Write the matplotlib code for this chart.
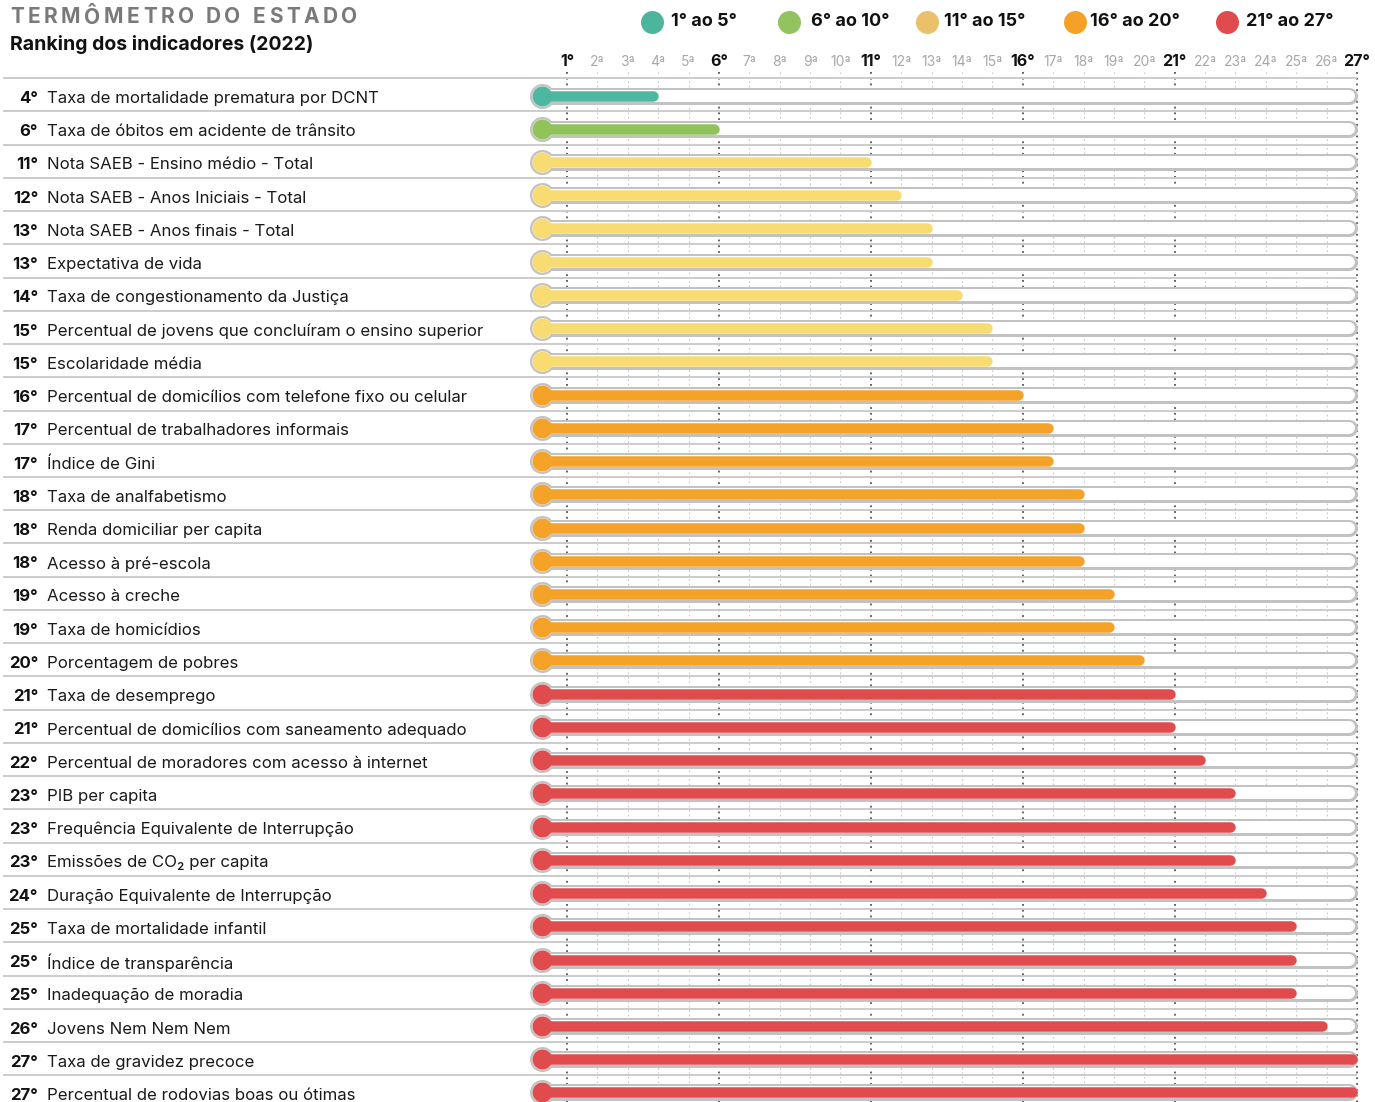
import matplotlib
matplotlib.use("Agg")
import matplotlib.pyplot as plt

# ---------------- data ----------------
labels = [
    "Taxa de mortalidade prematura por DCNT",
    "Taxa de óbitos em acidente de trânsito",
    "Nota SAEB - Ensino médio - Total",
    "Nota SAEB - Anos Iniciais - Total",
    "Nota SAEB - Anos finais - Total",
    "Expectativa de vida",
    "Taxa de congestionamento da Justiça",
    "Percentual de jovens que concluíram o ensino superior",
    "Escolaridade média",
    "Percentual de domicílios com telefone fixo ou celular",
    "Percentual de trabalhadores informais",
    "Índice de Gini",
    "Taxa de analfabetismo",
    "Renda domiciliar per capita",
    "Acesso à pré-escola",
    "Acesso à creche",
    "Taxa de homicídios",
    "Porcentagem de pobres",
    "Taxa de desemprego",
    "Percentual de domicílios com saneamento adequado",
    "Percentual de moradores com acesso à internet",
    "PIB per capita",
    "Frequência Equivalente de Interrupção",
    "Emissões de CO₂ per capita",
    "Duração Equivalente de Interrupção",
    "Taxa de mortalidade infantil",
    "Índice de transparência",
    "Inadequação de moradia",
    "Jovens Nem Nem Nem",
    "Taxa de gravidez precoce",
    "Percentual de rodovias boas ou ótimas",
]
ranks = [4, 6, 11, 12, 13, 13, 14, 15, 15, 16, 17, 17, 18, 18, 18, 19, 19, 20,
         21, 21, 22, 23, 23, 23, 24, 25, 25, 25, 26, 27, 27]

n_states = 27
major_ticks = [1, 6, 11, 16, 21, 27]
group_labels = ["1° ao 5°", "6° ao 10°", "11° ao 15°", "16° ao 20°", "21° ao 27°"]
group_upper = [5, 10, 15, 20, 27]
bar_colors = ["#4DB89F", "#90C45B", "#F8DC72", "#F5A228", "#E04C4E"]
legend_colors = ["#4DB59B", "#93C35E", "#EBC06B", "#F5A027", "#E04B4D"]

title = "TERMÔMETRO DO ESTADO"
subtitle = "Ranking dos indicadores (2022)"

# ---------------- layout ----------------
W, H = 1375, 1102
FONT = ["Inter", "DejaVu Sans"]
plt.rcParams["font.family"] = FONT

P = (1357 - 567) / 26.0       # pixels per rank
R = 33.233                    # pixels per row
ROW0 = 95.5                   # pixel y of first row
PT = 0.72                     # points per pixel at dpi 100


def px2x(px):
    return 1 + (px - 567) / P


def py2y(py):
    return (py - ROW0) / R


fig = plt.figure(figsize=(W / 100, H / 100), dpi=100)
ax = fig.add_axes([0, 0, 1, 1])
ax.set_xlim(px2x(0), px2x(W))
ax.set_ylim(py2y(H), py2y(0))
ax.axis("off")

n = len(labels)


def color_for(r, cols):
    for up, c in zip(group_upper, cols):
        if r <= up:
            return c
    return cols[-1]


# vertical dotted grid
for k in range(1, n_states + 1):
    major = k in major_ticks
    ax.plot([k, k], [py2y(72), py2y(H)],
            color="#555555" if major else "#C9C9C9",
            lw=1.3 if major else 0.8,
            ls=(0, (1, 2.2)) if major else (0, (1.5, 2.5)),
            zorder=1)
    ax.text(k, py2y(62), f"{k}°" if major else f"{k}ª",
            ha="center", va="center",
            fontsize=11.5 if major else 10,
            fontweight="bold" if major else "normal",
            color="#111111" if major else "#A8A8A8")

# row separators
for i in range(n + 1):
    y = i - 0.5 - 0.02
    ax.plot([px2x(3), px2x(1357)], [y, y], color="#CCCCCC", lw=1.4, zorder=1.5,
            solid_capstyle="butt")

bulb_x = px2x(541.5)
tube_end = px2x(1357 - 8.5)
fill_cap = 5.0 / P
for i, (lab, r) in enumerate(zip(labels, ranks)):
    c = color_for(r, bar_colors)
    # tube outline
    ax.plot([bulb_x, tube_end], [i, i], color="#C2C2C2", lw=17 * PT,
            solid_capstyle="round", zorder=2)
    ax.plot([bulb_x], [i], marker="o", ms=25 * PT, color="#C2C2C2", mew=0, zorder=2)
    ax.plot([bulb_x, tube_end], [i, i], color="white", lw=12 * PT,
            solid_capstyle="round", zorder=3)
    ax.plot([bulb_x], [i], marker="o", ms=20.5 * PT, color="white", mew=0, zorder=3)
    # fill
    ax.plot([bulb_x, r - fill_cap], [i, i], color=c, lw=10.5 * PT,
            solid_capstyle="round", zorder=4)
    ax.plot([bulb_x], [i], marker="o", ms=20 * PT, color=c, mew=0, zorder=4)
    # texts
    ty = i + 3.0 / R
    ax.text(px2x(38), ty, f"{r}°", ha="right", va="center", fontsize=12,
            fontweight="bold", color="#111111")
    ax.text(px2x(47), ty, lab, ha="left", va="center", fontsize=12.1,
            color="#1A1A1A")

# title with letter spacing
renderer = fig.canvas.get_renderer()
tkw = dict(ha="left", va="center", fontsize=15, fontweight="bold",
           color="#7A7A7A")
widths = []
for ch in title:
    t = ax.text(0, 0, ch if ch != " " else "\u00a0", **tkw)
    widths.append(t.get_window_extent(renderer).width)
    t.remove()
target_w = 357 - 10
track = (target_w - sum(widths)) / (len(title) - 1)
xp = 10
for ch, w in zip(title, widths):
    if ch != " ":
        ax.text(px2x(xp), py2y(17), ch, **tkw)
    xp += w + track

ax.text(px2x(10), py2y(45), subtitle, ha="left", va="center", fontsize=14,
        fontweight="bold", color="#111111")

# legend
leg_cx = [652, 789, 927, 1075, 1227]
leg_tx = [671, 811, 944, 1090, 1246]
for cx, tx, lab, c in zip(leg_cx, leg_tx, group_labels, legend_colors):
    ax.plot([px2x(cx)], [py2y(22)], marker="o", ms=23 * PT, color=c, mew=0)
    ax.text(px2x(tx), py2y(22), lab, ha="left", va="center", fontsize=13,
            fontweight="bold", color="#111111")

fig.savefig("out.png", dpi=100, facecolor="white")
